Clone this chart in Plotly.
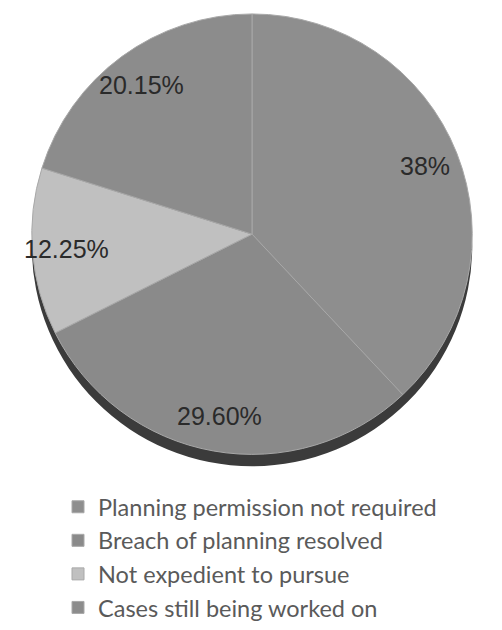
import math
import plotly.graph_objects as go

categories = ["Planning permission not required", "Breach of planning resolved",
              "Not expedient to pursue", "Cases still being worked on"]
values = [38.0, 29.60, 12.25, 20.15]
labels_text = ["38%", "29.60%", "12.25%", "20.15%"]
slice_colors = ["#8e8e8e", "#8a8a8a", "#c0c0c0", "#8c8c8c"]

# browser body margin is 8px, so the figure is a little smaller than the window
W, H = 494, 622
cx, cy, r = 244, 228, 222   # pie centre/radius in figure pixels
depth = 12
label_k = 0.84


def dom(cx, cy, r):
    return dict(x=[(cx - r) / W, (cx + r) / W], y=[1 - (cy + r) / H, 1 - (cy - r) / H])


fig = go.Figure()
# 3D rim (shadow disc)
fig.add_trace(go.Pie(values=[1], labels=["rim"], marker=dict(colors=["#3b3b3b"]),
                     textinfo="none", hoverinfo="skip", showlegend=False, sort=False,
                     domain=dom(cx, cy + depth, r)))
fig.add_trace(go.Pie(
    labels=categories, values=values, textinfo="none",
    sort=False, direction="clockwise", rotation=0,
    marker=dict(colors=slice_colors, line=dict(color="#a8a8a8", width=1)),
    domain=dom(cx, cy, r),
))

# data labels placed at each slice's mid-angle
total = sum(values)
cum = 0.0
for v, t in zip(values, labels_text):
    theta = 2 * math.pi * (cum + v / 2) / total
    cum += v
    px = cx + label_k * r * math.sin(theta)
    py = cy - label_k * r * math.cos(theta)
    fig.add_annotation(x=px / W, y=1 - py / H, xref="paper", yref="paper",
                       xanchor="center", yanchor="middle",
                       text=t, showarrow=False,
                       font=dict(family="Liberation Sans, Arial", size=25, color="#2a2a2a"))

fig.update_layout(
    width=W, height=H, margin=dict(l=0, r=0, t=0, b=0),
    paper_bgcolor="white", plot_bgcolor="white",
    legend=dict(x=50 / W, xanchor="left", y=1 - 481 / H, yanchor="top",
                font=dict(family="Lato, Open Sans", size=23.5, color="#5a5a5a"),
                bgcolor="rgba(0,0,0,0)"),
)
fig.write_html("out.html")
